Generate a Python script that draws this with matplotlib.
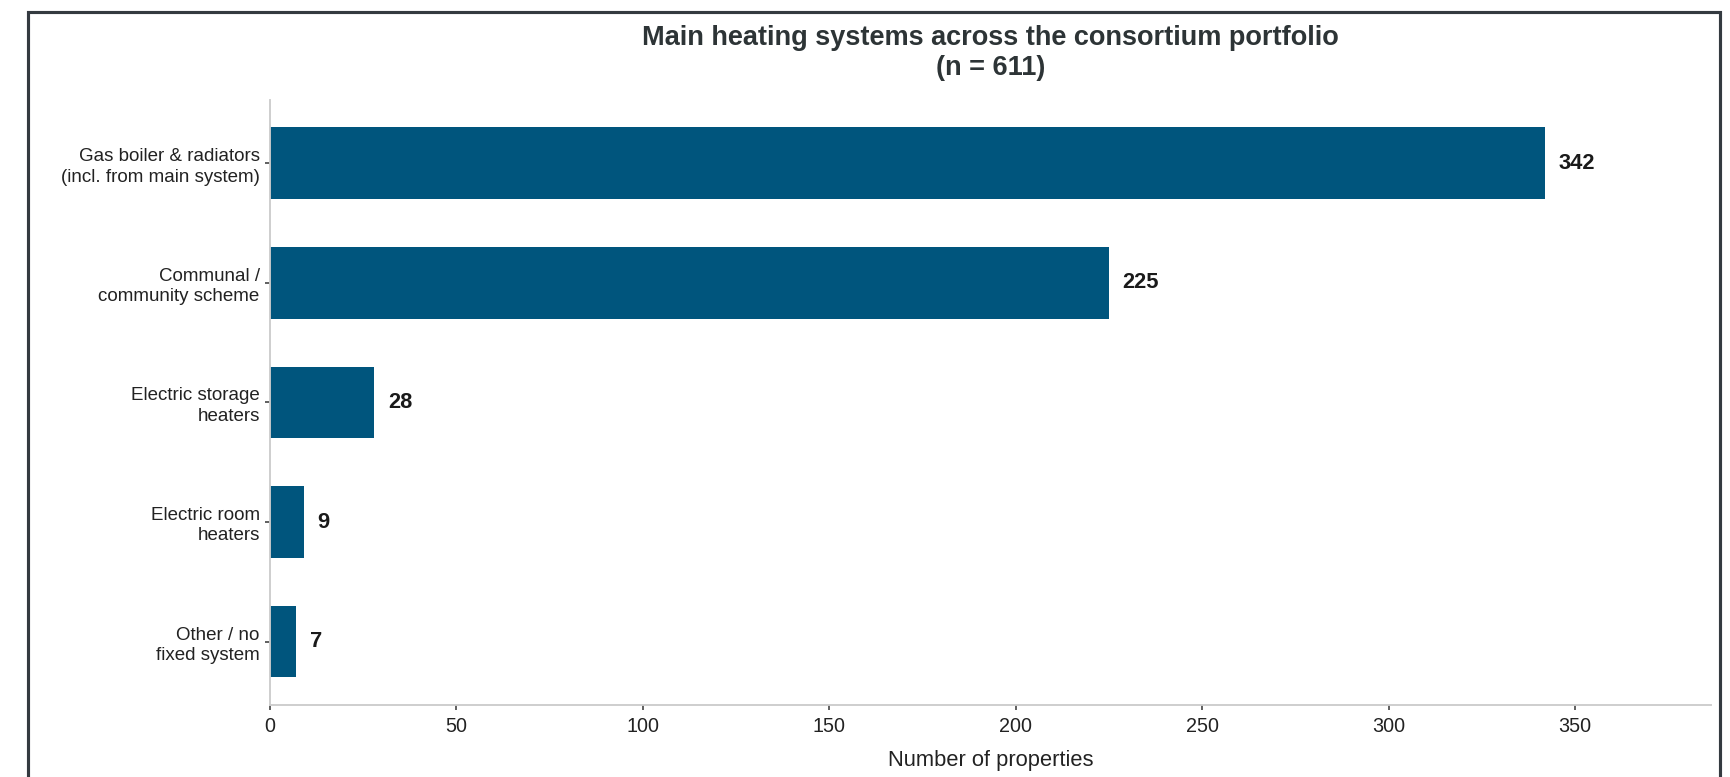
import matplotlib
matplotlib.use("Agg")
import matplotlib.pyplot as plt
from matplotlib.patches import Rectangle

plt.rcParams["font.family"] = ["Liberation Sans", "DejaVu Sans"]

# heating system counts (n = 611)
systems = [
    "Gas boiler & radiators\n(incl. from main system)",
    "Communal /\ncommunity scheme",
    "Electric storage\nheaters",
    "Electric room\nheaters",
    "Other / no\nfixed system",
]
counts = [342, 225, 28, 9, 7]
n_total = 611

bar_color = "#00557d"
text_dark = "#2d3436"

fig = plt.figure(figsize=(1730 / 150, 777 / 150), dpi=150)
ax = fig.add_axes([0.1561, 0.0927, 0.989 - 0.1561, 0.8713 - 0.0927])

pos = list(range(len(systems)))
ax.barh(pos, counts, height=0.6, color=bar_color)
ax.invert_yaxis()
ax.set_yticks(pos)
ax.set_yticklabels(systems, fontsize=9, color="#222222", linespacing=1.25)
ax.set_xlim(0, max(counts) * 1.13)
ax.set_xticks([0, 50, 100, 150, 200, 250, 300, 350])
ax.tick_params(axis="x", labelsize=9.5, labelcolor="#222222", length=2.5,
               width=0.8, color="#444444", pad=3.2)
ax.tick_params(axis="y", length=2.5, width=0.8, color="#444444", pad=2.5)

for p, c in zip(pos, counts):
    ax.annotate(str(c), xy=(c, p), xytext=(6.5, 0), textcoords="offset points",
                ha="left", va="center", fontsize=10.5, fontweight="bold",
                color="#1a1a1a")

for side in ["top", "right"]:
    ax.spines[side].set_visible(False)
for side in ["left", "bottom"]:
    ax.spines[side].set_color("#cccccc")
    ax.spines[side].set_linewidth(0.9)

ax.set_xlabel("Number of properties", fontsize=10.5, color="#222222", labelpad=7)
ax.set_title("Main heating systems across the consortium portfolio\n(n = %d)" % n_total,
             fontsize=13, fontweight="bold", color=text_dark, pad=12)

# dark frame round the figure
fig.patches.append(Rectangle((28.5 / 1730, -0.05), (1720 - 28.5) / 1730,
                             1 - 12 / 777 + 0.05, transform=fig.transFigure,
                             fill=False, edgecolor="#343a40", linewidth=1.5,
                             zorder=10))

fig.savefig("out.png", dpi=150, facecolor="white")
